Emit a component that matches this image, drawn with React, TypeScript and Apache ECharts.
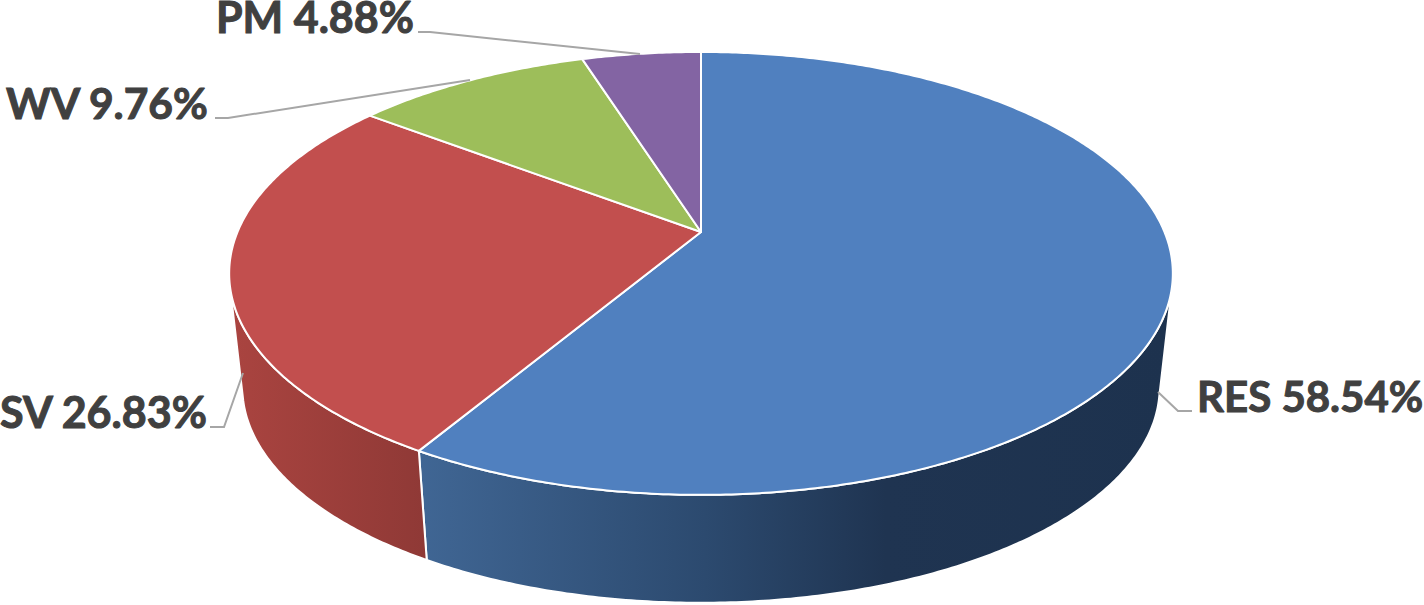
import React, { useEffect, useRef } from "react";
import * as echarts from "echarts";

const categories = ["RES", "SV", "WV", "PM"];
const shares = [58.54, 26.83, 9.76, 4.88];
const topColors = ["#5080bf", "#c24f4e", "#9dbe5a", "#8364a3"];
const sideStops = [
  [[0, "#406694"], [0.38, "#2c4a6f"], [0.62, "#1f3451"], [1, "#1d324e"]],
  [[0, "#aa4440"], [1, "#8f3936"]],
  [[0, "#7a9446"], [1, "#6a803c"]],
  [[0, "#664f82"], [1, "#584572"]],
];
// label layout: text anchor, size and leader-line route for each slice
const labelLayout = [
  { x: 1197, y: 396, size: 42, line: [[1192, 411], [1178, 411], [1158, 392]] },
  { x: 0, y: 411, size: 43, line: [[210, 427], [224, 427], [243, 373]] },
  { x: 6, y: 102, size: 42.5, line: [[215, 118], [228, 118], [470, 80]] },
  { x: 216, y: 16, size: 43, line: [[418, 32], [430, 32], [640, 54]] },
];

// perspective projection of the pie disc
const CX = 701;
const CY = 232;
const RX = 463.5;
const RY = 213.7;
const K = -0.187;
const DEPTH_SCALE = 0.972;
const VANISH_Y = 4350;

const total = shares.reduce((a, b) => a + b, 0);
const angles: number[] = [0];
shares.forEach((s, i) => angles.push(angles[i] + (s / total) * Math.PI * 2));

const topPoint = (t: number) => {
  const X = Math.sin(t);
  const Y = -Math.cos(t);
  const w = 1 + K * Y;
  return [CX + (RX * X) / w, CY + (RY * Y) / w];
};
const bottomPoint = (p: number[]) => [
  CX + DEPTH_SCALE * (p[0] - CX),
  VANISH_Y + DEPTH_SCALE * (p[1] - VANISH_Y),
];
const sample = (a: number, b: number) => {
  const n = Math.max(2, Math.ceil((b - a) / 0.01));
  return Array.from({ length: n + 1 }, (_, i) => a + ((b - a) * i) / n);
};
const isFront = (t: number) => {
  const p = topPoint(t);
  const q = topPoint(t + 0.001);
  const g = bottomPoint(p);
  return (q[0] - p[0]) * (g[1] - p[1]) - (q[1] - p[1]) * (g[0] - p[0]) < 0;
};

const renderSide = (params: any) => {
  const i = params.dataIndex;
  const ts = sample(angles[i], angles[i + 1]).filter(isFront);
  if (ts.length < 2) return { type: "group", children: [] };
  const upper = ts.map(topPoint);
  const lower = upper.map(bottomPoint).reverse();
  return {
    type: "polygon",
    shape: { points: [...upper, ...lower] },
    style: {
      fill: new echarts.graphic.LinearGradient(
        0, 0, 1, 0,
        sideStops[i].map(([offset, color]) => ({ offset, color })) as any
      ),
      stroke: "#ffffff",
      lineWidth: 2,
      lineJoin: "round",
    },
  };
};

const renderTop = (params: any) => {
  const i = params.dataIndex;
  const arc = sample(angles[i], angles[i + 1]).map(topPoint);
  return {
    type: "polygon",
    shape: { points: [[CX, CY], ...arc] },
    style: { fill: topColors[i], stroke: "#ffffff", lineWidth: 2, lineJoin: "round" },
  };
};

const renderLabel = (params: any) => {
  const i = params.dataIndex;
  const l = labelLayout[i];
  return {
    type: "group",
    children: [
      {
        type: "polyline",
        shape: { points: l.line },
        style: { stroke: "#a6a6a6", lineWidth: 2, fill: "none" },
      },
      {
        type: "text",
        style: {
          text: `${categories[i]} ${shares[i].toFixed(2)}%`,
          x: l.x,
          y: l.y,
          fill: "#404040",
          stroke: "#404040",
          lineWidth: 1,
          fontFamily: "Lato",
          fontWeight: "bold",
          fontSize: l.size,
          textAlign: "left",
          textVerticalAlign: "middle",
        },
      },
    ],
  };
};

export default function App() {
  const ref = useRef<HTMLDivElement>(null);
  useEffect(() => {
    document.body.style.margin = "0";
    const chart = echarts.init(ref.current!, null, { renderer: "svg" });
    const data = categories.map((name, i) => ({ name, value: shares[i] }));
    chart.setOption({
      animation: false,
      backgroundColor: "#ffffff",
      series: [
        { type: "custom", coordinateSystem: "none", z: 1, silent: true, data, renderItem: renderSide },
        { type: "custom", coordinateSystem: "none", z: 2, silent: true, data, renderItem: renderTop },
        { type: "custom", coordinateSystem: "none", z: 3, silent: true, data, renderItem: renderLabel },
      ],
    });
    return () => chart.dispose();
  }, []);
  return <div ref={ref} style={{ width: 1424, height: 605 }} />;
}
